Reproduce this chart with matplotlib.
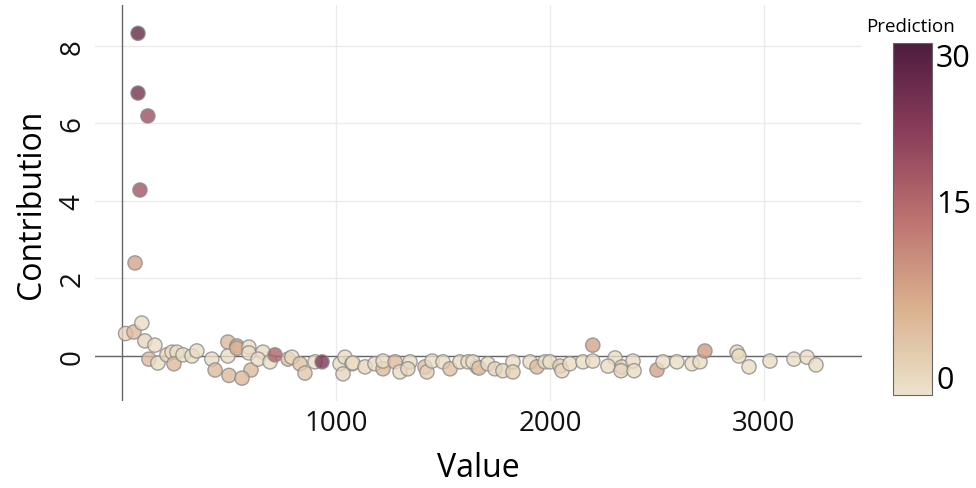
import matplotlib
matplotlib.use('Agg')
import matplotlib.pyplot as plt
from matplotlib.colors import LinearSegmentedColormap, Normalize
import numpy as np

plt.rcParams['font.family'] = ['Open Sans', 'DejaVu Sans']

# feature value, contribution and prediction
value = [75, 75, 121, 84, 61,
         17, 56, 93, 107, 154, 126, 168, 210, 234, 257, 243, 285, 327, 350,
         420, 435, 495, 495, 500, 537,
         537, 593, 593, 659, 603, 561, 636, 692, 715, 776, 794, 832, 855, 902, 935,
         1019, 1042, 1075, 1033,
         1079, 1136, 1182, 1220, 1220, 1276, 1299, 1346, 1336, 1416, 1425, 1449, 1500,
         1533, 1579, 1617, 1659,
         1640, 1668, 1710, 1743, 1780, 1827, 1827, 1907, 1939, 1977, 2000, 2047, 2056,
         2093, 2154, 2200, 2200,
         2304, 2271, 2336, 2332, 2388, 2393, 2500, 2528, 2593, 2664, 2701, 2724,
         2874, 2883, 2930, 3028, 3140, 3201, 3243]
contribution = [8.32, 6.78, 6.19, 4.28, 2.40,
                0.58, 0.62, 0.85, 0.39, 0.28, -0.08, -0.18, 0.03, 0.10, 0.10, -0.20, 0.03, 0.00, 0.13,
                -0.08, -0.36, 0.36, 0.00, -0.50, 0.26,
                0.20, 0.23, 0.08, 0.10, -0.36, -0.57, -0.08, -0.15, 0.03, -0.08, -0.03, -0.20, -0.44, -0.15, -0.15,
                -0.20, -0.03, -0.20, -0.46,
                -0.18, -0.28, -0.20, -0.33, -0.13, -0.15, -0.41, -0.15, -0.33, -0.28, -0.41, -0.13, -0.15,
                -0.33, -0.15, -0.15, -0.28,
                -0.15, -0.31, -0.20, -0.33, -0.38, -0.15, -0.41, -0.15, -0.28, -0.15, -0.15, -0.26, -0.38,
                -0.20, -0.15, 0.28, -0.13,
                -0.05, -0.26, -0.28, -0.38, -0.13, -0.38, -0.36, -0.15, -0.15, -0.20, -0.15, 0.13,
                0.10, 0.00, -0.28, -0.13, -0.08, -0.03, -0.23]
prediction = [27, 25, 20, 19, 9,
              2, 6, 1, 2, 1, 6, 1, 2, 1, 1, 6, 1, 1, 1,
              1, 6, 6, 1, 6, 9,
              7, 1, 1, 1, 6, 6, 1, 1, 17, 6, 1, 5, 4, 1, 24,
              1, 1, 1, 2,
              1, 2, 1, 6, 1, 6, 1, 1, 2, 5, 3, 1, 1,
              5, 1, 1, 5,
              1, 5, 1, 2, 2, 1, 3, 1, 6, 1, 1, 3, 2,
              1, 1, 9, 1,
              1, 1, 3, 2, 1, 1, 9, 1, 1, 1, 1, 10,
              2, 1, 1, 1, 1, 1, 1]

cmap = LinearSegmentedColormap.from_list(
    'pred', ['#ECE3CB', '#DAB08E', '#BD7270', '#8A3D5A', '#4E1C3E'])
norm = Normalize(vmin=0, vmax=30)

fig = plt.figure(figsize=(9.76, 4.89), dpi=100)
ax = fig.add_axes([95 / 976, 87 / 489, 767 / 976, 396 / 489])

ax.scatter(value, contribution, c=prediction, cmap=cmap, norm=norm, s=105,
           alpha=0.8, edgecolors='#8a8a8a', linewidths=1.0, zorder=3)

ax.set_xlim(-126, 3458)
ax.set_ylim(-1.16, 9.05)
ax.set_xticks([1000, 2000, 3000])
ax.set_yticks([0, 2, 4, 6, 8])
ax.grid(True, color='#ebebeb', linewidth=1.0, zorder=0)
ax.axhline(0, color='#666666', linewidth=1.0, zorder=2)
ax.axvline(0, color='#666666', linewidth=1.0, zorder=2)
for s in ax.spines.values():
    s.set_visible(False)
ax.tick_params(length=0, labelsize=20, pad=6, colors='#111111')
for lbl in ax.get_yticklabels():
    lbl.set_rotation(90)
    lbl.set_va('center')
ax.set_xlabel('Value', fontsize=23, labelpad=10)
ax.set_ylabel('Contribution', fontsize=23, labelpad=8)

cax = fig.add_axes([893 / 976, 93 / 489, 39 / 976, 352 / 489])
cb = fig.colorbar(plt.cm.ScalarMappable(norm=norm, cmap=cmap), cax=cax)
cb.set_ticks([0, 15, 30])
cb.outline.set_edgecolor('#666666')
cb.ax.tick_params(length=0, labelsize=22, pad=3)
# keep the end labels inside the bar, as in the reference
cb_labels = cb.ax.get_yticklabels()
cb_labels[0].set_va('bottom')
cb_labels[1].set_va('bottom')
cb_labels[2].set_va('top')
fig.text(910 / 976, 1 - 27 / 489, 'Prediction', ha='center', va='center', fontsize=13.5)

fig.savefig('out.png', dpi=100)
